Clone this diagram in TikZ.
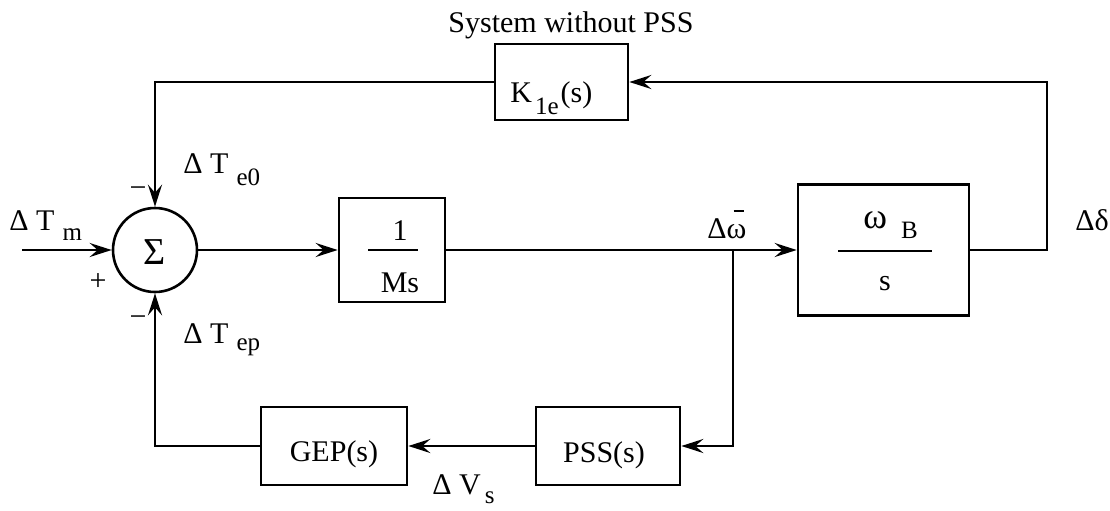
\documentclass[tikz,border=0pt]{standalone}
\usepackage{fontspec}
\setmainfont{Liberation Serif}
\usetikzlibrary{arrows.meta}
\newcommand{\subl}[2]{\raisebox{-#1}{\fontsize{12.5}{15}\selectfont #2}}
\newcommand{\wbar}{\rlap{\hspace{3.5pt}\rule[13pt]{5pt}{0.9pt}}ω}
\begin{document}
\begin{tikzpicture}[x=0.5pt,y=-0.5pt,
  every node/.style={font=\fontsize{15}{18}\selectfont, inner sep=0pt},
  blk/.style={draw, line width=1.3pt, rectangle},
  conn/.style={line width=1.3pt},
  arr/.style={conn, -{Stealth[length=11pt,width=7pt,inset=4pt]}},
  txt/.style={anchor=base west},
  ctxt/.style={anchor=base},
  ]
\useasboundingbox (0,0) rectangle (1110,510);
\fill[white] (0,0) rectangle (1110,510);

% blocks
\node[blk, circle, minimum size=42pt] (S) at (155,250) {};
\node[blk, minimum width=66.5pt, minimum height=38pt] (K) at (561.5,82) {};
\node[blk, minimum width=53pt, minimum height=52pt] (M) at (392,250) {};
\node[blk, minimum width=85.5pt, minimum height=65.5pt] (W) at (883.5,250) {};
\node[blk, minimum width=73pt, minimum height=39pt] (G) at (334,446) {};
\node[blk, minimum width=72pt, minimum height=39pt] (P) at (608,446) {};

% coordinates
\coordinate (src) at (22,250);
\coordinate (J) at (733,250);
\coordinate (R) at (1047,250);

% connectors
\draw[arr] (src) -- (S.west);
\draw[arr] (S.east) -- (M.west);
\draw[conn] (M.east) -- (J);
\draw[arr] (J) -- (W.west);
\draw[arr] (W.east) -- (R) |- (K.east);
\draw[arr] (K.west) -| (S.north);
\draw[arr] (J) |- (P.east);
\draw[arr] (P.west) -- (G.east);
\draw[arr] (G.west) -| (S.south);

% fraction bars
\draw[conn] (368,250) -- (418,250);
\draw[conn] (838,251) -- (932,251);

% texts
\node[ctxt] (title) at (571,32) {System without PSS};
\node[font=\fontsize{19}{22}\selectfont] (sig) at (155,252) {Σ};
\node (mtop) at (138,192) {−};
\node (mbot) at (138,321) {−};
\node (plus) at (98,282) {+};
\node[txt] (lTm) at (9,230) {Δ T\hspace{4pt}\subl{5pt}{m}};
\node[txt] (lTe) at (183,173) {Δ T\hspace{4pt}\subl{6pt}{e0}};
\node[txt] (lTp) at (183,343) {Δ T\hspace{4pt}\subl{3.5pt}{ep}};
\node[txt] (lVs) at (432,494) {Δ V\hspace{2pt}\subl{4.5pt}{s}};
\node[txt] (lw) at (707,238) {Δ\wbar};
\node[txt] (ld) at (1075,230) {Δδ};
\node[txt] (tK) at (510,102) {K\hspace{1.5pt}\subl{6pt}{1e}\hspace{1pt}(s)};
\node[ctxt] (t1) at (400,240) {1};
\node[ctxt] (tMs) at (400,292) {Ms};
\node[txt] (tw) at (863,228) {{\fontsize{18}{20}\selectfont ω}\hspace{7pt}\subl{5pt}{B}};
\node[ctxt] (ts) at (885,290) {s};
\node[ctxt] (tG) at (334,461) {GEP(s)};
\node[ctxt] (tP) at (604,462) {PSS(s)};
\end{tikzpicture}
\end{document}
